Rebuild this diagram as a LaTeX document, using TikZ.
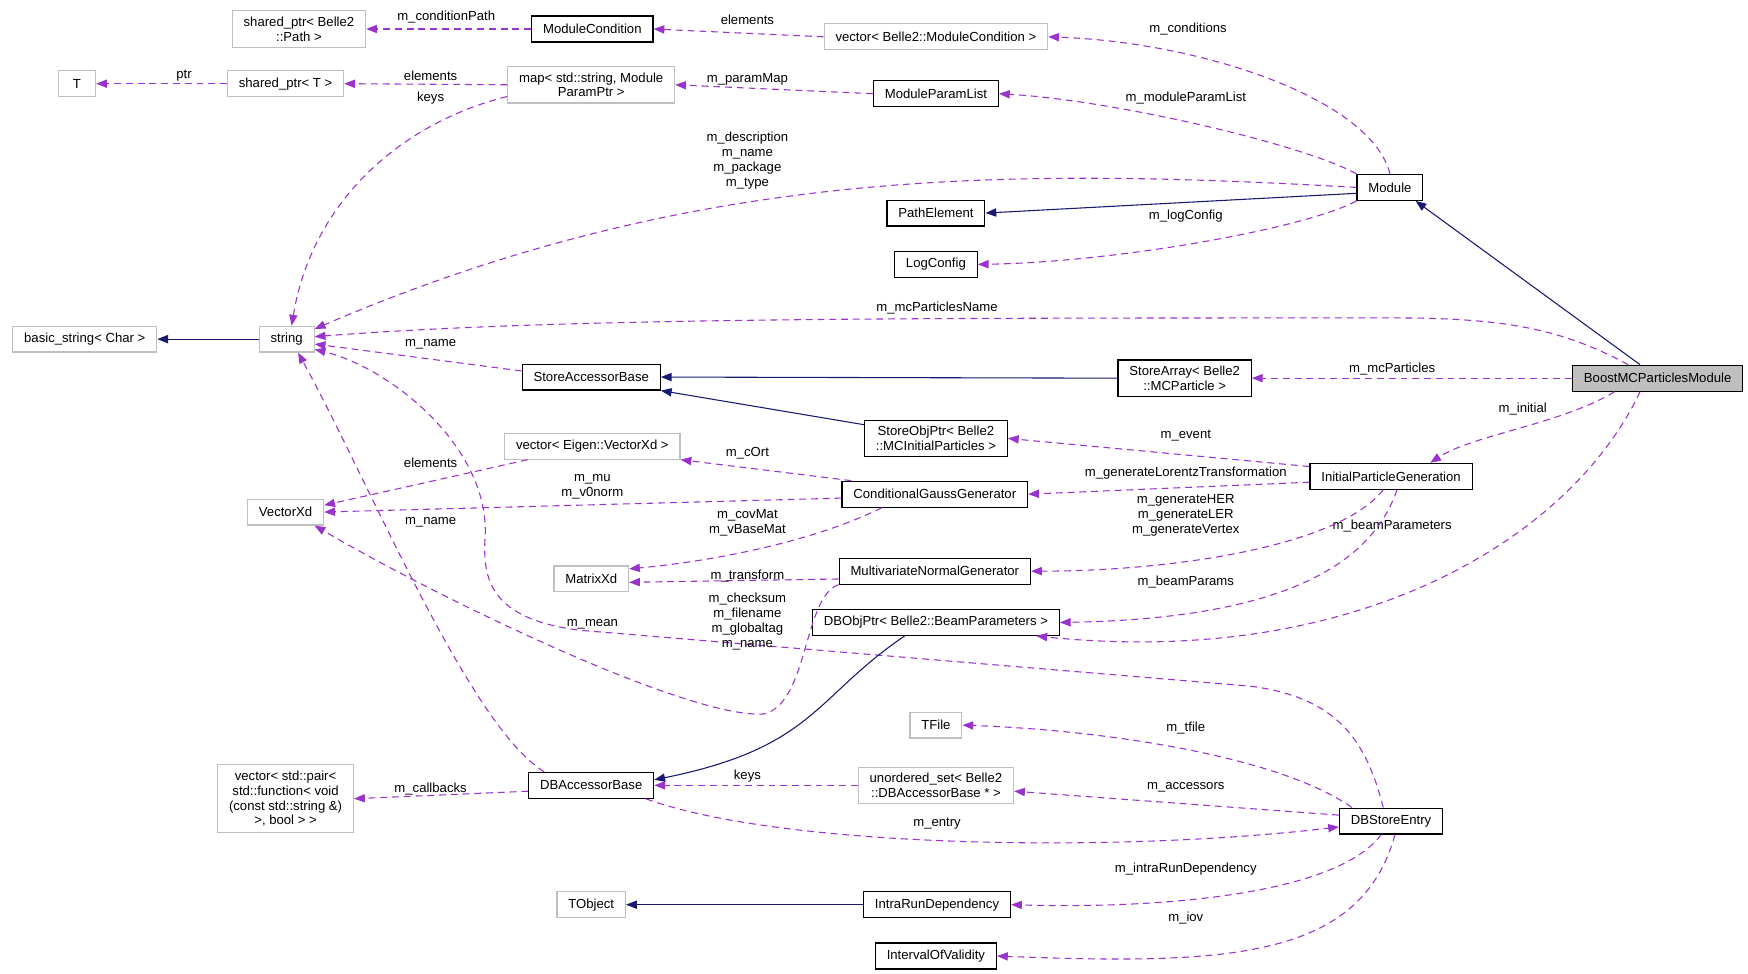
\documentclass[tikz,border=0pt]{standalone}
\usepackage{fontspec}
\setmainfont{Liberation Sans}
\usetikzlibrary{arrows.meta}
\definecolor{usepurple}{HTML}{9A32CD}
\definecolor{inhblue}{HTML}{191970}
\definecolor{extgray}{HTML}{BFBFBF}
\begin{document}
\begin{tikzpicture}[>={Triangle[length=5.5pt,width=4.2pt]}, x=0.02cm, y=-0.02cm,
    font=\fontsize{6.7}{7.6}\selectfont,
    cls/.style={draw=black, line width=0.6pt, inner xsep=5.8pt, inner ysep=3pt, minimum height=13.2pt, minimum width=19pt, align=center},
    ext/.style={cls, draw=extgray},
    main/.style={cls, fill=extgray},
    use/.style={->, draw=usepurple, dash pattern=on 3.5pt off 2.5pt, line width=0.55pt},
    inh/.style={->, draw=inhblue, line width=0.55pt},
    lbl/.style={align=center, inner sep=0pt}]
    \useasboundingbox (0,0) rectangle (1567,873);

    \node[ext] (sppath) at (268,26) {shared\_ptr< Belle2\\::Path >};
    \node[cls] (modcond) at (531,26) {ModuleCondition};
    \node[ext] (vecmc) at (839,33) {vector< Belle2::ModuleCondition >};
    \node[ext] (T) at (69,75) {T};
    \node[ext] (spT) at (256,75) {shared\_ptr< T >};
    \node[ext] (map) at (530,76) {map< std::string, Module\\ParamPtr >};
    \node[cls] (mpl) at (839,84) {ModuleParamList};
    \node[cls] (module) at (1246,168) {Module};
    \node[cls] (pathel) at (839,191) {PathElement};
    \node[cls] (logcfg) at (839,237) {LogConfig};
    \node[ext] (basicstr) at (76,304) {basic\_string< Char >};
    \node[ext] (str) at (257,304) {string};
    \node[cls] (sab) at (530,338) {StoreAccessorBase};
    \node[cls] (sarr) at (1062,339) {StoreArray< Belle2\\::MCParticle >};
    \node[main] (boost) at (1486,339) {BoostMCParticlesModule};
    \node[cls] (sobj) at (839,393) {StoreObjPtr< Belle2\\::MCInitialParticles >};
    \node[ext] (veceig) at (531,400) {vector< Eigen::VectorXd >};
    \node[cls] (ipg) at (1247,427) {InitialParticleGeneration};
    \node[cls] (cgg) at (838,443) {ConditionalGaussGenerator};
    \node[ext] (vxd) at (256,459) {VectorXd};
    \node[ext] (mxd) at (530,519) {MatrixXd};
    \node[cls] (mng) at (838,512) {MultivariateNormalGenerator};
    \node[cls] (dbobj) at (839,558) {DBObjPtr< Belle2::BeamParameters >};
    \node[ext] (tfile) at (839,650) {TFile};
    \node[cls] (dbab) at (530,704) {DBAccessorBase};
    \node[ext] (veccb) at (256,716) {vector< std::pair<\\std::function< void\\(const std::string \&)\\>, bool > >};
    \node[ext] (uset) at (839,704) {unordered\_set< Belle2\\::DBAccessorBase * >};
    \node[cls] (dbse) at (1247,736) {DBStoreEntry};
    \node[ext] (tobj) at (530,811) {TObject};
    \node[cls] (ird) at (840,811) {IntraRunDependency};
    \node[cls] (iov) at (839,857) {IntervalOfValidity};

    \draw[use] (modcond.west) -- (sppath.east) node[lbl] at (400,15) {m\_conditionPath};
    \draw[use] (vecmc.west) -- (modcond.east) node[lbl] at (670,18) {elements};
    \draw[use] (module.north) .. controls (1230,90) and (1080,38) .. (vecmc.east) node[lbl] at (1065,26) {m\_conditions};
    \draw[use] (spT.west) -- (T.east) node[lbl] at (165,68) {ptr};
    \draw[use] (map.west) -- (spT.east) node[lbl] at (386,68) {elements};
    \draw[use] ([yshift=-6pt]map.west) .. controls (360,110) and (280,180) .. (str.70) node[lbl] at (386,88) {keys};
    \draw[use] (mpl.west) -- (map.east) node[lbl] at (670,71) {m\_paramMap};
    \draw[use] (module.north west) .. controls (1170,130) and (1000,90) .. (mpl.east) node[lbl] at (1063,88) {m\_moduleParamList};
    \draw[use] (module.west) .. controls (900,150) and (620,150) .. (str.20) node[lbl] at (670,144) {m\_description\\m\_name\\m\_package\\m\_type};
    \draw[inh] (module.190) -- (pathel.east);
    \draw[use] (module.south west) .. controls (1170,205) and (1000,235) .. (logcfg.east) node[lbl] at (1063,194) {m\_logConfig};
    \draw[inh] (str.west) -- (basicstr.east);
    \draw[inh] ([xshift=-9pt]boost.north) -- ([xshift=-4pt]module.south east);
    \draw[use] ([xshift=-15pt]boost.north) .. controls (1400,295) and (1350,285) .. (1250,285) .. controls (800,285) and (500,285) .. (str.5) node[lbl] at (840,276) {m\_mcParticlesName};
    \draw[use] (boost.west) -- (sarr.east) node[lbl] at (1248,331) {m\_mcParticles};
    \draw[use] ([xshift=-22pt]boost.south) .. controls (1400,380) and (1320,390) .. ([xshift=20pt]ipg.north) node[lbl] at (1365,367) {m\_initial};
    \draw[use] ([xshift=-9pt]boost.south) .. controls (1410,480) and (1220,600) .. ([xshift=-12pt]dbobj.south east) node[lbl] at (1248,472) {m\_beamParameters};
    \draw[inh] (sarr.west) -- (sab.east);
    \draw[inh] ([yshift=7pt]sobj.west) -- (sab.south east);
    \draw[use] (sab.175) -- (str.-10) node[lbl] at (386,309) {m\_name};
    \draw[use] ([yshift=5pt]ipg.west) -- (sobj.east) node[lbl] at (1063,390) {m\_event};
    \draw[use] ([yshift=-3pt]ipg.west) -- (cgg.east) node[lbl] at (1063,424) {m\_generateLorentzTransformation};
    \draw[use] ([xshift=-4pt]ipg.south) .. controls (1200,490) and (1050,512) .. (mng.east) node[lbl] at (1063,462) {m\_generateHER\\m\_generateLER\\m\_generateVertex};
    \draw[use] ([xshift=3pt]ipg.south) .. controls (1225,520) and (1120,555) .. (dbobj.east) node[lbl] at (1063,522) {m\_beamParams};
    \draw[use] ([xshift=5pt]cgg.north west) -- (veceig.south east) node[lbl] at (670,406) {m\_cOrt};
    \draw[use] ([yshift=-2pt]cgg.west) -- (vxd.east) node[lbl] at (531,436) {m\_mu\\m\_v0norm};
    \draw[use] ([xshift=-27pt]cgg.south) .. controls (720,490) and (620,505) .. (mxd.15) node[lbl] at (670,469) {m\_covMat\\m\_vBaseMat};
    \draw[use] ([xshift=12pt]veceig.south west) -- (vxd.10) node[lbl] at (386,415) {elements};
    \draw[use] ([yshift=-4pt]mng.west) -- (mxd.-5) node[lbl] at (670,516) {m\_transform};
    \draw[use] (mng.south west) .. controls (720,535) and (725,630) .. (685,640) .. controls (620,645) and (400,540) .. (vxd.-25) node[lbl] at (531,560) {m\_mean};
    \draw[use] ([xshift=-4pt]dbse.north) .. controls (1225,665) and (1200,625) .. (1120,615) -- (520,565) .. controls (440,555) and (432,520) .. (435,480) .. controls (438,400) and (350,330) .. (str.-20) node[lbl] at (670,557) {m\_checksum\\m\_filename\\m\_globaltag\\m\_name};
    \draw[use] ([xshift=-24pt]dbab.north) .. controls (420,650) and (330,430) .. (str.-50) node[lbl] at (386,468) {m\_name};
    \draw[inh] ([xshift=-16pt]dbobj.south) .. controls (730,625) and (730,670) .. (dbab.5);
    \draw[use] ([yshift=-3pt]dbab.west) -- (veccb.east) node[lbl] at (386,707) {m\_callbacks};
    \draw[use] (uset.west) -- (dbab.east) node[lbl] at (670,696) {keys};
    \draw[use] ([xshift=-20pt]dbse.north) .. controls (1150,680) and (1000,655) .. (tfile.east) node[lbl] at (1063,653) {m\_tfile};
    \draw[use] ([yshift=3pt]dbse.west) -- ([yshift=-3pt]uset.east) node[lbl] at (1063,706) {m\_accessors};
    \draw[use] ([xshift=28pt]dbab.south) .. controls (700,760) and (1000,765) .. ([yshift=-3pt]dbse.west) node[lbl] at (840,738) {m\_entry};
    \draw[use] ([xshift=-5pt]dbse.south) .. controls (1200,800) and (1050,815) .. (ird.east) node[lbl] at (1063,779) {m\_intraRunDependency};
    \draw[use] ([xshift=2pt]dbse.south) .. controls (1220,860) and (1100,865) .. (iov.east) node[lbl] at (1063,823) {m\_iov};
    \draw[inh] (ird.west) -- (tobj.east);
\end{tikzpicture}
\end{document}
